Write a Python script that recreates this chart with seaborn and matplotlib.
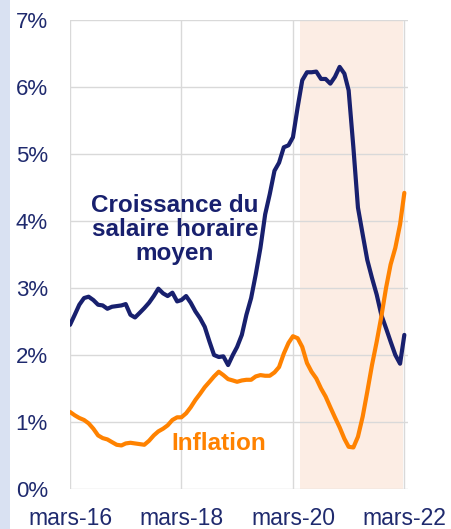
import matplotlib
matplotlib.use("Agg")
import matplotlib.pyplot as plt
import matplotlib.patches as mpatches
import seaborn as sns
import numpy as np
import pandas as pd

# monthly series, mars 2016 -> mars 2022 (en %)
start_month = "2016-03-01"
wage_growth = [
    2.45, 2.60, 2.75, 2.85, 2.87, 2.82, 2.75, 2.74, 2.69, 2.72, 2.73, 2.74,
    2.76, 2.60, 2.56, 2.63, 2.70, 2.78, 2.88, 2.99, 2.92, 2.88, 2.93, 2.80,
    2.82, 2.88, 2.78, 2.65, 2.55, 2.42, 2.20, 2.00, 1.97, 1.98, 1.85, 2.00,
    2.12, 2.30, 2.60, 2.85, 3.20, 3.60, 4.10, 4.40, 4.75, 4.87, 5.10, 5.13,
    5.25, 5.70, 6.10, 6.22, 6.22, 6.23, 6.12, 6.12, 6.05, 6.15, 6.30, 6.20,
    5.95, 5.10, 4.20, 3.80, 3.42, 3.15, 2.90, 2.60, 2.40, 2.20, 2.00, 1.87,
    2.30,
]
inflation = [
    1.15, 1.10, 1.06, 1.03, 0.98, 0.90, 0.80, 0.76, 0.74, 0.70, 0.66, 0.65,
    0.68, 0.69, 0.68, 0.67, 0.66, 0.72, 0.80, 0.86, 0.90, 0.95, 1.03, 1.07,
    1.07, 1.13, 1.22, 1.33, 1.42, 1.52, 1.60, 1.68, 1.75, 1.70, 1.64, 1.62,
    1.60, 1.62, 1.63, 1.63, 1.68, 1.70, 1.69, 1.69, 1.74, 1.82, 2.02, 2.18,
    2.28, 2.25, 2.12, 1.88, 1.75, 1.65, 1.50, 1.38, 1.22, 1.07, 0.92, 0.75,
    0.63, 0.62, 0.78, 1.08, 1.45, 1.85, 2.20, 2.57, 3.00, 3.35, 3.60, 3.95,
    4.42,
]
tick_dates = ["2016-03-01", "2018-03-01", "2020-03-01", "2022-03-01"]
tick_labels = ["mars-16", "mars-18", "mars-20", "mars-22"]
y_ticks = [0, 1, 2, 3, 4, 5, 6, 7]
y_labels = ["0%", "1%", "2%", "3%", "4%", "5%", "6%", "7%"]
shade_period = ("2020-04-15", "2022-02-20")

navy = "#18206e"
orange = "#ff8200"
label_color = "#1f2a6e"

dates = pd.date_range(start_month, periods=len(wage_growth), freq="MS")
df = pd.DataFrame({"date": dates, "salaire": wage_growth, "inflation": inflation})

sns.set_style("white")
plt.rcParams["font.family"] = ["Liberation Sans", "DejaVu Sans"]

fig = plt.figure(figsize=(4.52, 5.29), dpi=100)
ax = fig.add_axes([70 / 452, 1 - 489 / 529, 338 / 452, 469 / 529])

# light blue band on the left edge
fig.patches.append(mpatches.Rectangle((0, 0), 10 / 452, 1, transform=fig.transFigure,
                                      facecolor="#d9e1f2", edgecolor="none", zorder=0))

ax.axvspan(pd.Timestamp(shade_period[0]), pd.Timestamp(shade_period[1]),
           facecolor="#fcede4", edgecolor="none", zorder=0)

sns.lineplot(data=df, x="date", y="salaire", ax=ax, color=navy, linewidth=3, zorder=3)
sns.lineplot(data=df, x="date", y="inflation", ax=ax, color=orange, linewidth=3, zorder=3)

ax.set_ylim(0, 7)
ax.set_xlim(pd.Timestamp("2016-03-01"), pd.Timestamp("2022-03-25"))
ax.set_yticks(y_ticks)
ax.set_yticklabels(y_labels)
ax.set_xticks([pd.Timestamp(d) for d in tick_dates])
ax.set_xticklabels(tick_labels)
ax.set_xlabel("")
ax.set_ylabel("")

ax.grid(True, color="#d9d9d9", linewidth=1)
ax.set_axisbelow(True)
for s in ax.spines.values():
    s.set_visible(False)

ax.tick_params(axis="y", length=0, pad=16, labelsize=16, labelcolor=label_color)
ax.tick_params(axis="x", length=6, width=1, color="#d9d9d9", pad=7,
               labelsize=16.5, labelcolor=label_color)

ax.text(0.31, 0.554, "Croissance du\nsalaire horaire\nmoyen", transform=ax.transAxes,
        ha="center", va="center", fontsize=17.5, fontweight="bold", color=navy,
        linespacing=1.05)
ax.text(0.44, 0.096, "Inflation", transform=ax.transAxes, ha="center", va="center",
        fontsize=17.5, fontweight="bold", color=orange)

fig.savefig("out.png", dpi=100)
